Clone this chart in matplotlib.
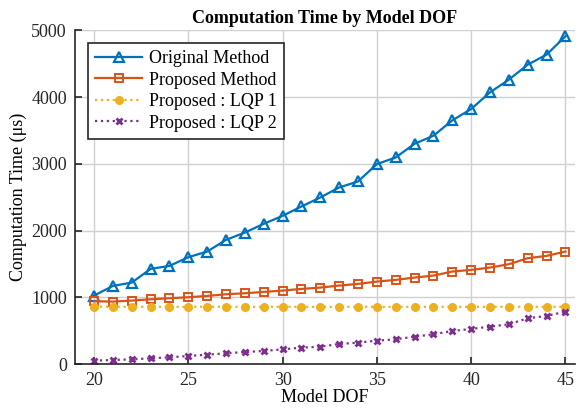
"""
Computation time vs model DOF
"""
import matplotlib.pyplot as plt
import numpy as np

dof = np.arange(20, 46)
original = [1025, 1170, 1220, 1425, 1470, 1600, 1685, 1860, 1970, 2100,
            2220, 2360, 2495, 2645, 2735, 2995, 3095, 3300, 3420, 3650,
            3820, 4070, 4260, 4485, 4635, 4910]
proposed = [940, 935, 950, 970, 985, 1000, 1020, 1045, 1060, 1080,
            1100, 1125, 1145, 1175, 1200, 1235, 1260, 1295, 1325, 1385,
            1410, 1445, 1495, 1585, 1620, 1685]
lqp1 = [860, 858, 857, 858, 856, 857, 858, 857, 856, 857,
        858, 857, 856, 857, 858, 857, 856, 857, 858, 857,
        856, 857, 858, 857, 856, 858]
lqp2 = [50, 60, 70, 85, 100, 120, 140, 160, 180, 195,
        220, 245, 260, 300, 320, 350, 370, 410, 445, 495,
        525, 560, 595, 685, 720, 785]

plt.rcParams['font.family'] = ['Liberation Serif', 'DejaVu Serif']

fig = plt.figure(figsize=(5.83, 4.12), dpi=100)
ax = fig.add_axes([0.129, 0.1165, 0.857, 0.81])

ax.plot(dof, original, '-^', color='#0072BD', lw=1.6, ms=7.5, mfc='none',
        mew=1.6, label='Original Method')
ax.plot(dof, proposed, '-s', color='#D95319', lw=1.6, ms=6, mfc='none',
        mew=1.4, label='Proposed Method')
ax.plot(dof, lqp1, ':o', color='#EDB120', lw=1.6, ms=5.5,
        label='Proposed : LQP 1')
ax.plot(dof, lqp2, ':x', color='#7E2F8E', lw=1.6, ms=5, mew=2,
        label='Proposed : LQP 2')

ax.set_xlim(19, 45.5)
ax.set_ylim(0, 5000)
ax.set_xticks([20, 25, 30, 35, 40, 45])
ax.set_yticks([0, 1000, 2000, 3000, 4000, 5000])
ax.grid(True, color='#d0d0d0', lw=1)
ax.set_axisbelow(True)
for side in ('top', 'right'):
    ax.spines[side].set_visible(False)
for side in ('left', 'bottom'):
    ax.spines[side].set_color('#262626')
    ax.spines[side].set_linewidth(1.2)
ax.tick_params(direction='in', length=5, width=1.2, colors='#262626',
               labelsize=13, labelcolor='#262626', pad=6)

ax.set_xlabel('Model DOF', fontsize=13, labelpad=0)
ax.set_ylabel('Computation Time (μs)', fontsize=13, labelpad=3)
ax.set_title('Computation Time by Model DOF', fontsize=13,
             fontweight='bold', pad=5)

leg = ax.legend(loc='upper left', fontsize=13, fancybox=False,
                edgecolor='#262626', framealpha=1, handlelength=2.6,
                borderaxespad=0.7, labelspacing=0.25, borderpad=0.4,
                handletextpad=0.4)
leg.get_frame().set_linewidth(1.2)

fig.savefig('out.png', dpi=100)
